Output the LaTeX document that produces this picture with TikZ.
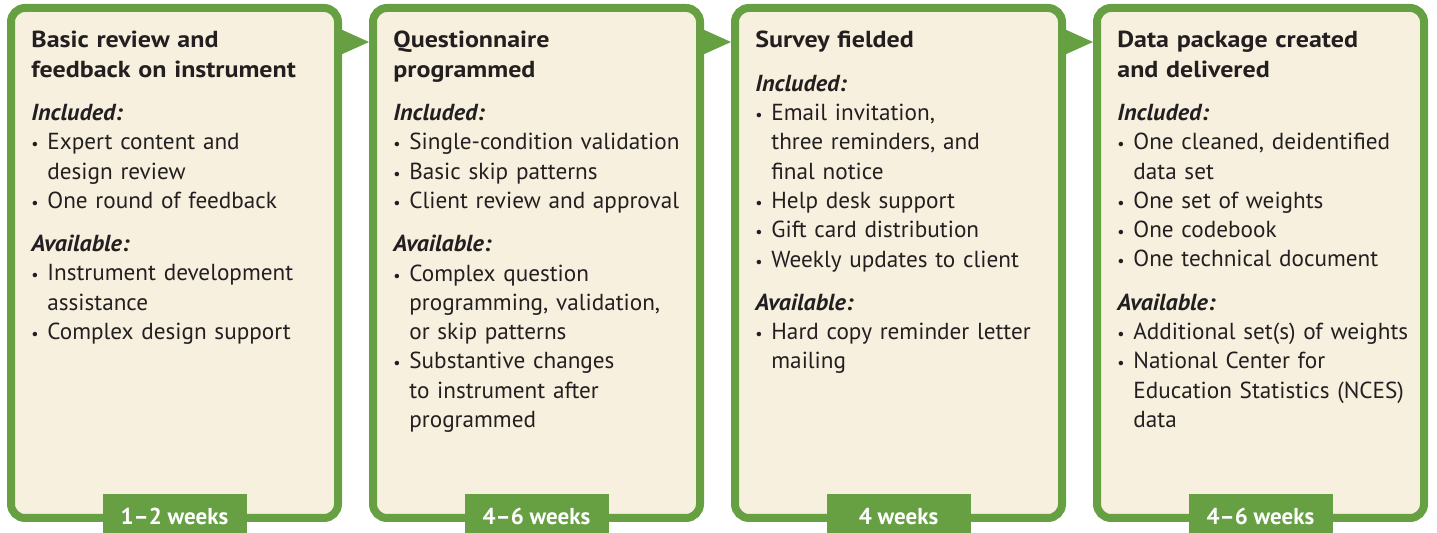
\documentclass[tikz,border=0pt]{standalone}
\usepackage{fontspec}
\setmainfont{PT Sans}
\newfontfamily\stagefont{PT Sans}[BoldFeatures={FakeStretch=1.12}, BoldItalicFeatures={FakeStretch=1.04}]
\usepackage{tikz}
\usetikzlibrary{positioning, calc}

\definecolor{stagegreen}{HTML}{66A043}
\definecolor{stagefill}{HTML}{F7F0DF}
\definecolor{stageink}{HTML}{231F20}
\newcommand{\bul}{\makebox[8pt][l]{\fontsize{8}{8}\selectfont\textbullet}}
\newcommand{\ind}{\hspace*{8pt}}
\newcommand{\head}[1]{{\bfseries\itshape #1}}

\begin{document}
\begin{tikzpicture}[x=0.5pt, y=-0.5pt,
  stage/.style={rectangle, draw=stagegreen, fill=stagefill, line width=4pt, rounded corners=7pt, minimum width=163.5pt, minimum height=255pt},
  stagetext/.style={anchor=north west, inner sep=0pt, text width=158pt, align=left, text=stageink, font=\stagefont\fontsize{11.6}{14.65}\selectfont},
  weektab/.style={fill=stagegreen, text=white, minimum width=72pt, minimum height=19.5pt, inner sep=0pt, text height=11.5pt, text depth=0pt, font=\fontsize{11.5}{12}\selectfont\bfseries, anchor=south}
]
  \useasboundingbox (0,0) rectangle (1437,533);
  % stage frames
  \node[stage] (review) at (174.5,263) {};
  \node[stage, right=13.5pt of review] (program) {};
  \node[stage, right=13.5pt of program] (field) {};
  \node[stage, right=13.5pt of field] (deliver) {};
  % arrow notches between stages
  \foreach \a/\b in {review/program, program/field, field/deliver}
    \fill[stagegreen] ([shift={(-2pt,-12pt)}]\a.north east) -- ([shift={(-2pt,-26pt)}]\a.north east) -- ([yshift=-19pt]\b.north west) -- cycle;
  % stage contents
  \node[stagetext] (reviewtext) at ([shift={(12pt,-13.5pt)}]review.north west) {%
    {\bfseries Basic review and\\ feedback on instrument}\\[7pt]
    \head{Included:}\\
    \bul Expert content and\\ \ind design review\\
    \bul One round of feedback\\[7pt]
    \head{Available:}\\
    \bul Instrument development\\ \ind assistance\\
    \bul Complex design support};
  \node[stagetext] (programtext) at ([shift={(12pt,-13.5pt)}]program.north west) {%
    {\bfseries Questionnaire\\ programmed}\\[7pt]
    \head{Included:}\\
    \bul Single-condition validation\\
    \bul Basic skip patterns\\
    \bul Client review and approval\\[7pt]
    \head{Available:}\\
    \bul Complex question\\ \ind programming, validation,\\ \ind or skip patterns\\
    \bul Substantive changes\\ \ind to instrument after\\ \ind programmed};
  \node[stagetext] (fieldtext) at ([shift={(12pt,-13.5pt)}]field.north west) {%
    {\bfseries Survey fielded}\\[7pt]
    \head{Included:}\\
    \bul Email invitation,\\ \ind three reminders, and\\ \ind final notice\\
    \bul Help desk support\\
    \bul Gift card distribution\\
    \bul Weekly updates to client\\[7pt]
    \head{Available:}\\
    \bul Hard copy reminder letter\\ \ind mailing};
  \node[stagetext] (delivertext) at ([shift={(12pt,-13.5pt)}]deliver.north west) {%
    {\bfseries Data package created\\ and delivered}\\[7pt]
    \head{Included:}\\
    \bul One cleaned, deidentified\\ \ind data set\\
    \bul One set of weights\\
    \bul One codebook\\
    \bul One technical document\\[7pt]
    \head{Available:}\\
    \bul Additional set(s) of weights\\
    \bul National Center for\\ \ind Education Statistics (NCES)\\ \ind data};
  % durations
  \node[weektab] (reviewtab) at ([yshift=-5.5pt]review.south) {1–2 weeks};
  \node[weektab] (programtab) at ([yshift=-5.5pt]program.south) {4–6 weeks};
  \node[weektab] (fieldtab) at ([yshift=-5.5pt]field.south) {4 weeks};
  \node[weektab] (delivertab) at ([yshift=-5.5pt]deliver.south) {4–6 weeks};
\end{tikzpicture}
\end{document}
